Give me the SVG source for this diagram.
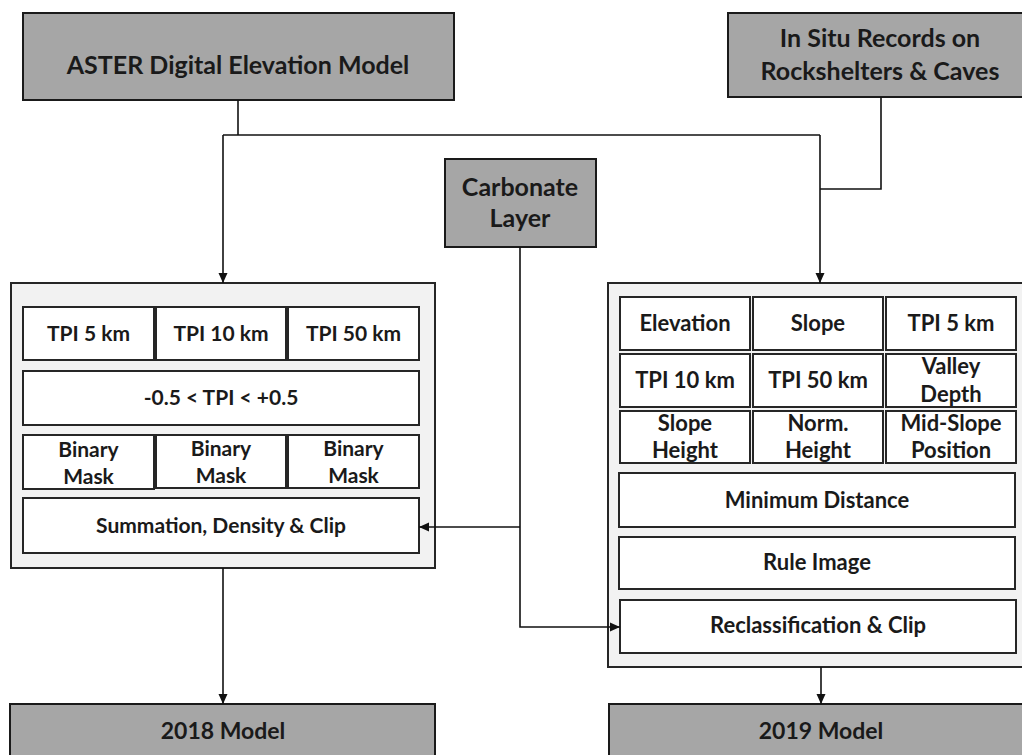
<svg xmlns="http://www.w3.org/2000/svg" width="1022" height="755" viewBox="0 0 1022 755">
<defs>
<marker id="arr" viewBox="0 0 10 10" refX="10" refY="5" markerWidth="10" markerHeight="10" markerUnits="userSpaceOnUse" orient="auto">
<path d="M0,0.5 L10,5 L0,9.5 Z" fill="#111"/>
</marker>
<style>
.src{fill:#a6a6a6;stroke:#1a1a1a;stroke-width:2}
.grp{fill:#f2f2f2;stroke:#262626;stroke-width:2}
.cell{fill:#fff;stroke:#262626;stroke-width:2}
text{font-family:Lato,"Open Sans","Liberation Sans",sans-serif;font-weight:bold;fill:#1a1a1a;text-anchor:middle}
.big{font-size:25px}
.mid{font-size:25px}
.t{font-size:21px}
.r{font-size:22px}
.bot{font-size:23px}
.con{fill:none;stroke:#111;stroke-width:1.6}
</style>
</defs>

<g id="aster">
<rect class="src" x="23" y="13" width="431" height="87"/>
<text class="big" x="238" y="74">ASTER Digital Elevation Model</text>
</g>

<g id="insitu">
<rect class="src" x="728" y="13" width="300" height="84"/>
<text class="big" x="880" y="47">In Situ Records on</text>
<text class="big" x="880" y="80">Rockshelters &amp; Caves</text>
</g>

<g id="carbonate">
<rect class="src" x="445" y="159" width="151" height="88"/>
<text class="mid" x="520" y="196">Carbonate</text>
<text class="mid" x="520" y="227">Layer</text>
</g>

<g id="model2018-process">
<rect class="grp" x="11" y="283" width="424" height="285"/>
<g id="l-tpi5"><rect class="cell" x="23" y="307" width="131" height="53"/><text class="t" x="88.5" y="341">TPI 5 km</text></g>
<g id="l-tpi10"><rect class="cell" x="156" y="307" width="130" height="53"/><text class="t" x="221" y="341">TPI 10 km</text></g>
<g id="l-tpi50"><rect class="cell" x="288" y="307" width="131" height="53"/><text class="t" x="353.5" y="341">TPI 50 km</text></g>
<g id="l-range"><rect class="cell" x="23" y="371" width="396" height="54"/><text class="t" x="221" y="405">-0.5 &lt; TPI &lt; +0.5</text></g>
<g id="l-mask1"><rect class="cell" x="23" y="435" width="131" height="54"/><text class="t" x="88.5" y="457">Binary</text><text class="t" x="88.5" y="484">Mask</text></g>
<g id="l-mask2"><rect class="cell" x="156" y="435" width="130" height="53"/><text class="t" x="221" y="456">Binary</text><text class="t" x="221" y="483">Mask</text></g>
<g id="l-mask3"><rect class="cell" x="288" y="435" width="131" height="53"/><text class="t" x="353.5" y="456">Binary</text><text class="t" x="353.5" y="483">Mask</text></g>
<g id="l-sum"><rect class="cell" x="23" y="498" width="396" height="55"/><text class="t" x="221" y="533">Summation, Density &amp; Clip</text></g>
</g>

<g id="model2019-process">
<rect class="grp" x="608" y="283" width="420" height="384"/>
<g id="r-elev"><rect class="cell" x="620" y="297" width="130" height="53"/><text class="r" x="685" y="331">Elevation</text></g>
<g id="r-slope"><rect class="cell" x="753" y="297" width="130" height="53"/><text class="r" x="818" y="331">Slope</text></g>
<g id="r-tpi5"><rect class="cell" x="886" y="297" width="130" height="53"/><text class="r" x="951" y="331">TPI 5 km</text></g>
<g id="r-tpi10"><rect class="cell" x="620" y="354" width="130" height="53"/><text class="r" x="685" y="388">TPI 10 km</text></g>
<g id="r-tpi50"><rect class="cell" x="753" y="354" width="130" height="53"/><text class="r" x="818" y="388">TPI 50 km</text></g>
<g id="r-valley"><rect class="cell" x="886" y="354" width="130" height="53"/><text class="r" x="951" y="374">Valley</text><text class="r" x="951" y="402">Depth</text></g>
<g id="r-slopeh"><rect class="cell" x="620" y="411" width="130" height="52"/><text class="r" x="685" y="431">Slope</text><text class="r" x="685" y="458">Height</text></g>
<g id="r-normh"><rect class="cell" x="753" y="411" width="130" height="52"/><text class="r" x="818" y="431">Norm.</text><text class="r" x="818" y="458">Height</text></g>
<g id="r-midslope"><rect class="cell" x="886" y="411" width="130" height="52"/><text class="r" x="951" y="431">Mid-Slope</text><text class="r" x="951" y="458">Position</text></g>
<g id="r-mindist"><rect class="cell" x="619" y="473" width="396" height="54"/><text class="r" x="817" y="508">Minimum Distance</text></g>
<g id="r-rule"><rect class="cell" x="619" y="537" width="396" height="52"/><text class="r" x="817" y="570">Rule Image</text></g>
<g id="r-reclass"><rect class="cell" x="620" y="600" width="396" height="53"/><text class="r" x="818" y="633">Reclassification &amp; Clip</text></g>
</g>

<g id="model2018">
<rect class="src" x="10" y="704" width="425" height="60"/>
<text class="bot" x="223" y="739">2018 Model</text>
</g>

<g id="model2019">
<rect class="src" x="609" y="704" width="420" height="60"/>
<text class="bot" x="821" y="739">2019 Model</text>
</g>

<g id="connectors">
<path class="con" d="M238,100 V135"/>
<path class="con" d="M223,135 H820"/>
<path class="con" d="M223,135 V283" marker-end="url(#arr)"/>
<path class="con" d="M820,135 V283" marker-end="url(#arr)"/>
<path class="con" d="M881,97 V189 H820"/>
<path class="con" d="M520,247 V627 H620" marker-end="url(#arr)"/>
<path class="con" d="M520,527 H419" marker-end="url(#arr)"/>
<path class="con" d="M223,568 V704" marker-end="url(#arr)"/>
<path class="con" d="M821,667 V704" marker-end="url(#arr)"/>
</g>
</svg>
